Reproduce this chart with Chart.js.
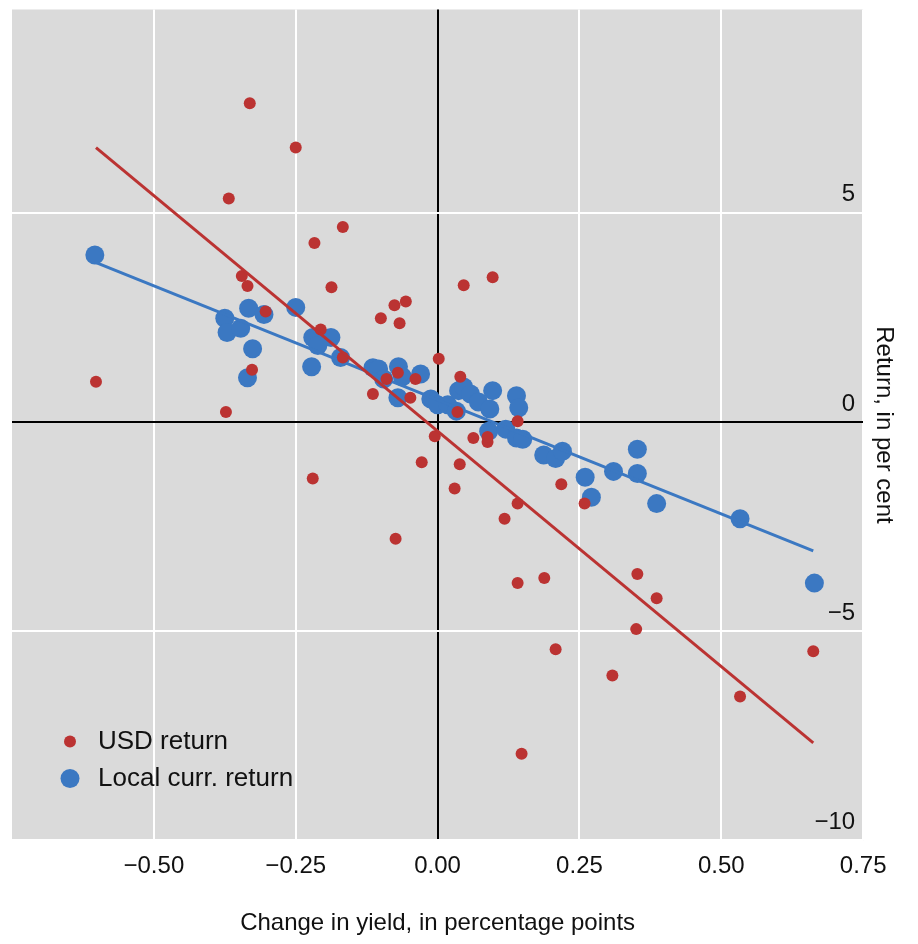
<!DOCTYPE html>
<html>
<head>
<meta charset="utf-8">
<script src="https://cdn.jsdelivr.net/npm/chart.js@4"></script>
<style>
  body { margin: 0; background: #fff; }
  #wrap { width: 918px; height: 944px; }
</style>
</head>
<body>
<div id="wrap"><canvas id="chart"></canvas></div>
<script>
// USD return points: change in yield (x) and return (y)
const usdX = [-0.602,-0.331,-0.25,-0.368,-0.167,-0.217,-0.345,-0.335,-0.187,-0.303,-0.206,-0.167,-0.327,-0.373,-0.22,-0.074,-0.056,-0.076,-0.1,-0.067,-0.114,-0.09,-0.07,-0.048,-0.039,0.002,-0.005,-0.028,0.046,0.097,0.04,0.035,0.039,0.03,0.063,0.088,0.088,0.141,0.141,0.118,0.141,0.188,0.148,0.208,0.218,0.259,0.352,0.386,0.35,0.308,0.533,0.662];
const usdY = [0.96,7.62,6.56,5.34,4.66,4.28,3.49,3.25,3.22,2.64,2.21,1.54,1.25,0.24,-1.35,-2.79,2.88,2.79,2.48,2.36,0.67,1.03,1.18,0.58,1.03,1.51,-0.34,-0.96,3.27,3.46,1.08,0.24,-1.01,-1.59,-0.38,-0.48,-0.36,0.02,-1.95,-2.31,-3.85,-3.73,-7.93,-5.43,-1.49,-1.95,-3.63,-4.21,-4.95,-6.06,-6.56,-5.48];
// Local currency return points
const locX = [-0.604,-0.375,-0.371,-0.347,-0.333,-0.306,-0.326,-0.335,-0.25,-0.22,-0.188,-0.211,-0.222,-0.171,-0.114,-0.104,-0.095,-0.069,-0.062,-0.07,-0.03,-0.012,0,0.018,0.037,0.046,0.058,0.072,0.097,0.092,0.139,0.143,0.033,0.09,0.12,0.139,0.15,0.187,0.208,0.22,0.26,0.271,0.31,0.352,0.352,0.386,0.533,0.664];
const locY = [3.99,2.48,2.14,2.24,2.72,2.57,1.75,1.06,2.74,2.02,2.02,1.83,1.32,1.54,1.3,1.27,1.03,1.32,1.08,0.58,1.15,0.55,0.41,0.41,0.75,0.84,0.67,0.48,0.75,0.31,0.63,0.34,0.26,-0.22,-0.17,-0.38,-0.41,-0.79,-0.87,-0.7,-1.32,-1.8,-1.18,-0.65,-1.23,-1.95,-2.31,-3.85];
// fitted lines (end points)
const usdFitX = [-0.602, 0.662];
const usdFitY = [6.56, -7.67];
const locFitX = [-0.604, 0.662];
const locFitY = [3.82, -3.08];

const xTicks = [-0.5, -0.25, 0, 0.25, 0.5, 0.75];
const yTicks = [-10, -5, 0, 5];
const seriesNames = ["USD return", "Local curr. return"];

const RED = "#bb3332";
const BLUE = "#3b78c2";
const FONT = "Liberation Sans, Arial, sans-serif";

const pts = (xs, ys) => xs.map((x, i) => ({ x, y: ys[i] }));

const bgPlugin = {
  id: "bg",
  beforeDraw(chart) {
    const { ctx, chartArea: a } = chart;
    ctx.save();
    ctx.fillStyle = "#dadada";
    ctx.fillRect(a.left, a.top, a.right - a.left, a.bottom - a.top);
    ctx.restore();
  },
  afterDatasetsDraw(chart) {
    const { ctx, chartArea: a, scales } = chart;
    ctx.save();
    // y tick labels, inside at right, above the grid line
    ctx.font = "24px " + FONT;
    ctx.fillStyle = "#111";
    ctx.textAlign = "right";
    ctx.textBaseline = "bottom";
    yTicks.forEach(v => {
      const label = v < 0 ? "\u2212" + Math.abs(v) : String(v);
      ctx.fillText(label, a.right - 8, scales.y.getPixelForValue(v) - 6);
    });
    // legend, bottom-left
    ctx.textAlign = "left";
    ctx.textBaseline = "middle";
    ctx.font = "26px " + FONT;
    const lx = a.left + 58, ly1 = a.top + 732, ly2 = a.top + 769;
    ctx.fillStyle = RED;
    ctx.beginPath(); ctx.arc(lx, ly1, 6, 0, Math.PI * 2); ctx.fill();
    ctx.fillStyle = BLUE;
    ctx.beginPath(); ctx.arc(lx, ly2, 9.5, 0, Math.PI * 2); ctx.fill();
    ctx.fillStyle = "#111";
    ctx.fillText(seriesNames[0], lx + 28, ly1);
    ctx.fillText(seriesNames[1], lx + 28, ly2);
    ctx.restore();
  }
};

new Chart(document.getElementById("chart"), {
  type: "scatter",
  data: {
    datasets: [
      { label: seriesNames[1], data: pts(locX, locY), backgroundColor: BLUE, pointRadius: 9.5, pointBorderWidth: 0, order: 4 },
      { label: seriesNames[1] + " fit", type: "line", data: pts(locFitX, locFitY), borderColor: BLUE, borderWidth: 3, pointRadius: 0, order: 3 },
      { label: seriesNames[0], data: pts(usdX, usdY), backgroundColor: RED, pointRadius: 6, pointBorderWidth: 0, order: 2 },
      { label: seriesNames[0] + " fit", type: "line", data: pts(usdFitX, usdFitY), borderColor: RED, borderWidth: 3, pointRadius: 0, order: 1 }
    ]
  },
  options: {
    responsive: true,
    maintainAspectRatio: false,
    animation: false,
    layout: { padding: { left: 12, top: 0, right: 4, bottom: 2 } },
    plugins: { legend: { display: false }, tooltip: { enabled: false } },
    scales: {
      x: {
        type: "linear", min: -0.75, max: 0.75,
        afterBuildTicks: s => { s.ticks = xTicks.map(v => ({ value: v })); },
        grid: { color: c => c.tick.value === 0 ? "#000" : "#fff", lineWidth: 2, drawTicks: false },
        border: { display: false },
        ticks: { padding: 12, color: "#111", font: { family: FONT, size: 24 }, callback: v => (v < 0 ? "\u2212" : "") + Math.abs(v).toFixed(2) },
        title: { display: true, text: "Change in yield, in percentage points", color: "#111", font: { family: FONT, size: 24 }, padding: { top: 16 } }
      },
      y: {
        type: "linear", position: "right", min: -10, max: 9.86,
        afterBuildTicks: s => { s.ticks = [-10, -5, 0, 5].map(v => ({ value: v })); },
        grid: { color: c => c.tick.value === 0 ? "#000" : "#fff", lineWidth: 2, drawTicks: false },
        border: { display: false },
        ticks: { display: false },
        title: { display: true, text: "Return, in per cent", color: "#111", font: { family: FONT, size: 24 }, padding: { top: 16, bottom: 6 } }
      }
    }
  },
  plugins: [bgPlugin]
});
</script>
</body>
</html>
